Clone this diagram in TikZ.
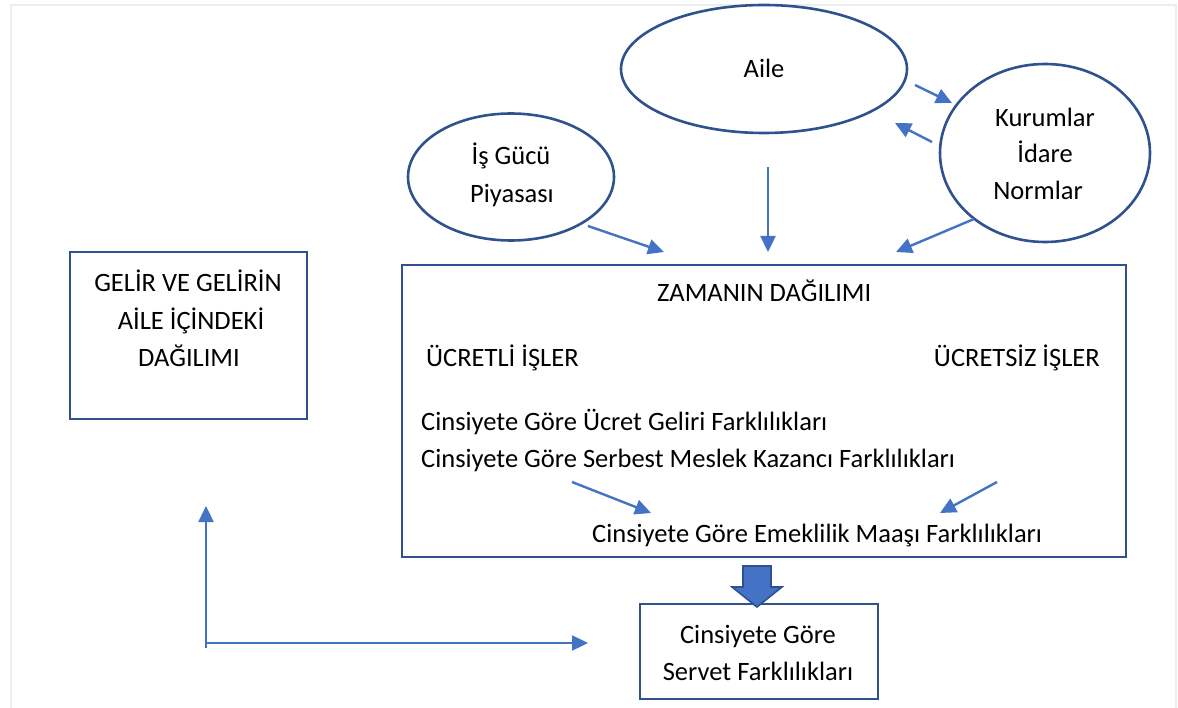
\documentclass[tikz,border=0pt]{standalone}
\usepackage{fontspec}
\setmainfont{Carlito}
\usetikzlibrary{arrows.meta,shapes.geometric}
\definecolor{edge}{HTML}{2F528F}
\definecolor{acc}{HTML}{4472C4}
\tikzset{
  shapebox/.style={draw=edge, line width=2.6pt, fill=white, inner sep=0pt},
  oval/.style={shapebox, ellipse},
  rect/.style={shapebox, rectangle},
  txt/.style={inner sep=0pt, font=\fontsize{26.5}{36.5}\selectfont, text=black},
  arr/.style={draw=acc, line width=2.4pt, -{Triangle[length=16pt,width=15pt]}},
}
\begin{document}
\begin{tikzpicture}[x=1pt,y=-1pt]
\useasboundingbox (0,0) rectangle (1178,708);
% faint page frame
\draw[black!7, line width=1.5pt] (11,712) -- (11,5) -- (1176,5) -- (1176,712);

% shapes
\node[oval, minimum width=286pt, minimum height=128pt] (aile) at (764,69) {};
\node[oval, minimum width=210pt, minimum height=178pt] (kurum) at (1045,153) {};
\node[oval, minimum width=206pt, minimum height=127pt] (isgucu) at (511,177) {};
\node[rect, minimum width=237pt, minimum height=167pt] (gelir) at (188.5,335.5) {};
\node[rect, minimum width=724pt, minimum height=292pt] (zaman) at (764,411) {};
\node[rect, minimum width=238pt, minimum height=95pt] (servet) at (759,651.5) {};

% texts
\node[txt, anchor=base] (tAile) at (764,78) {Aile};
\node[txt, anchor=base] (tKur1) at (1045,127) {Kurumlar};
\node[txt, anchor=base] (tKur2) at (1045,163) {İdare};
\node[txt, anchor=base] (tKur3) at (1038,200) {Normlar};
\node[txt, anchor=base] (tIs1) at (511,165) {İş Gücü};
\node[txt, anchor=base] (tIs2) at (512,203) {Piyasası};
\node[txt, anchor=base] (tG1) at (188,292) {GELİR VE GELİRİN};
\node[txt, anchor=base] (tG2) at (191,330) {AİLE İÇİNDEKİ};
\node[txt, anchor=base] (tG3) at (189,367) {DAĞILIMI};
\node[txt, anchor=base west] (tZ) at (657,302) {ZAMANIN DAĞILIMI};
\node[txt, anchor=base west] (tUc) at (426,367) {ÜCRETLİ İŞLER};
\node[txt, anchor=base east] (tUs) at (1100,367) {ÜCRETSİZ İŞLER};
\node[txt, anchor=base west] (tC1) at (421,430) {Cinsiyete Göre Ücret Geliri Farklılıkları};
\node[txt, anchor=base west] (tC2) at (421,467) {Cinsiyete Göre Serbest Meslek Kazancı Farklılıkları};
\node[txt, anchor=base west] (tC3) at (592,542) {Cinsiyete Göre Emeklilik Maaşı Farklılıkları};
\node[txt, anchor=base] (tS1) at (758,643) {Cinsiyete Göre};
\node[txt, anchor=base] (tS2) at (758,680) {Servet Farklılıkları};

% connector end points
\coordinate (isOut) at (588,226);
\coordinate (zIn1) at (664,252);
\coordinate (aOut) at (768,167);
\coordinate (zIn2) at (768,252);
\coordinate (kOut) at (974,219);
\coordinate (zIn3) at (896,252);
\coordinate (a2k1) at (915,85);
\coordinate (a2k2) at (952,103);
\coordinate (k2a1) at (932,142);
\coordinate (k2a2) at (895,123);
\coordinate (c2s) at (572,482);
\coordinate (c2e) at (651,513);
\coordinate (r2s) at (997,482);
\coordinate (r2e) at (940,513);
\coordinate (Lc) at (206,648);
\coordinate (Lup) at (206,506);
\coordinate (Lh) at (206,643);
\coordinate (Lrt) at (588,643);

\draw[arr] (isOut) -- (zIn1);
\draw[arr] (aOut) -- (zIn2);
\draw[arr] (kOut) -- (zIn3);
\draw[arr] (a2k1) -- (a2k2);
\draw[arr] (k2a1) -- (k2a2);
\draw[arr] (c2s) -- (c2e);
\draw[arr] (r2s) -- (r2e);
\draw[arr] (Lc) -- (Lup);
\draw[arr] (Lh) -- (Lrt);

% block arrow
\draw[fill=acc, draw=edge, line width=1.6pt, line join=miter]
  (743,566) -- (771,566) -- (771,587) -- (782,587) -- (757,607) -- (732,587) -- (743,587) -- cycle;
\end{tikzpicture}
\end{document}
